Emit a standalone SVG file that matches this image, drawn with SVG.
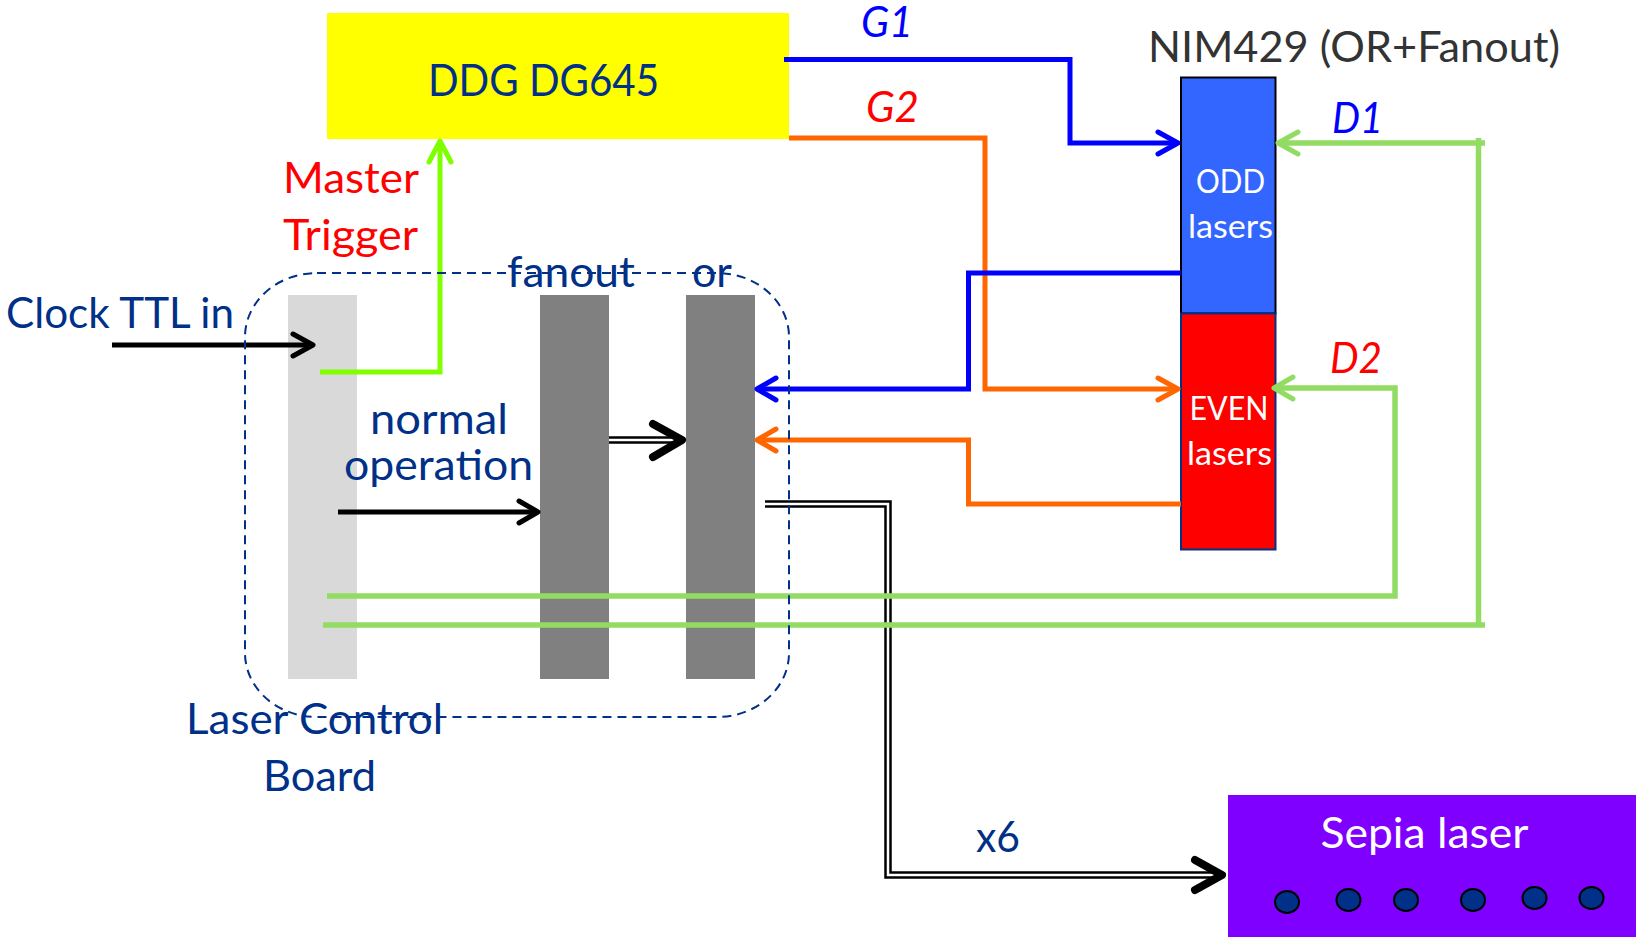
<svg xmlns="http://www.w3.org/2000/svg" width="1636" height="939" viewBox="0 0 1636 939">
<style>
text{font-family:"Lato","Open Sans","Noto Sans",sans-serif;font-size:42px;fill:#003087}
.r{fill:#f00}.b{fill:#00f}.w{fill:#fff}.i{font-style:italic;font-size:42px}.s{font-size:33px;fill:#fff}
.l{fill:none;stroke-linejoin:miter}
.blue{stroke:#00f;stroke-width:5}.or{stroke:#f60;stroke-width:5}.gr{stroke:#92dc64;stroke-width:5.5}.lime{stroke:#7fff00;stroke-width:5}.k{stroke:#000;stroke-width:5}
.h{fill:none;stroke-linecap:round;stroke-linejoin:round;stroke-width:5}
.dot{fill:#003087;stroke:#000;stroke-width:2}
</style>
<rect width="1636" height="939" fill="#fff"/>
<g id="board-inputs"><rect x="288" y="295" width="69" height="384" fill="#d9d9d9"/></g>
<g id="fanout-block"><rect x="540" y="295" width="69" height="384" fill="#808080"/></g>
<g id="or-block"><rect x="686" y="295" width="69" height="384" fill="#808080"/></g>
<g id="ddg"><rect x="327" y="13" width="462" height="126" fill="#ff0"/>
<text x="428" y="96" style="font-size:44px" textLength="231" lengthAdjust="spacingAndGlyphs">DDG DG645</text></g>
<g id="odd"><rect x="1181" y="77.500" width="94.500" height="236" fill="#36f" stroke="#000" stroke-width="2"/>
<text class="s" x="1196" y="193" textLength="69" lengthAdjust="spacingAndGlyphs">ODD</text>
<text class="s" x="1188" y="238" textLength="85" lengthAdjust="spacingAndGlyphs">lasers</text></g>
<g id="even"><rect x="1181" y="313.500" width="94.500" height="236" fill="#f00" stroke="#003087" stroke-width="2"/>
<text class="s" x="1189.500" y="420" textLength="79" lengthAdjust="spacingAndGlyphs">EVEN</text>
<text class="s" x="1187" y="465" textLength="85" lengthAdjust="spacingAndGlyphs">lasers</text></g>
<g id="sepia"><rect x="1228" y="795" width="408" height="142" fill="#8000ff"/>
<text class="w" x="1320.500" y="848" textLength="208" lengthAdjust="spacingAndGlyphs">Sepia laser</text>
<ellipse class="dot" cx="1287" cy="902" rx="12" ry="11"/><ellipse class="dot" cx="1348.500" cy="900" rx="12" ry="11"/><ellipse class="dot" cx="1406" cy="900" rx="12" ry="11"/><ellipse class="dot" cx="1473" cy="900" rx="12" ry="11"/><ellipse class="dot" cx="1534.500" cy="898" rx="12" ry="11"/><ellipse class="dot" cx="1591.500" cy="898" rx="12" ry="11"/></g>
<g id="connectors">
<path class="l k" d="M112 345H313"/><path class="h" stroke="#000" d="M293 334L313 345L293 356"/>
<path class="l k" d="M338 512H538"/><path class="h" stroke="#000" d="M519 501L538 512L519 523"/>
<path class="l lime" d="M320 372H440V142"/><path class="h" stroke="#7fff00" d="M429 162L440 141L451 162"/>
<path class="l" stroke="#000" stroke-width="7.500" d="M609 440H680"/><path class="l" stroke="#fff" stroke-width="2.500" d="M609 440H680"/><path class="h" stroke="#000" style="stroke-width:8" d="M653 424L682 440L653 457"/>
<path class="l" stroke="#000" stroke-width="7.500" d="M765 504H888V875H1220"/><path class="l" stroke="#fff" stroke-width="2.500" d="M765 504H888V875H1220"/><path class="h" stroke="#000" style="stroke-width:8" d="M1195 860L1222 875L1195 890"/>
<path class="l blue" d="M784 59.500H1070V143H1176"/><path class="h" stroke="#00f" d="M1158 132L1178 143L1158 154"/>
<path class="l or" d="M789 138H985V389H1176"/><path class="h" stroke="#f60" d="M1158 378L1178 389L1158 400"/>
<path class="l blue" d="M1181 273H968.500V389H760"/><path class="h" stroke="#00f" d="M776 378L757 389L776 400"/>
<path class="l or" d="M1181 504H968.500V440H760"/><path class="h" stroke="#f60" d="M776 429L757 440L776 451"/>
<path class="l gr" d="M323 625H1485M1478.500 625V138M1485 143H1282"/><path class="h" stroke="#92dc64" d="M1298 132L1278 143L1298 154"/>
<path class="l gr" d="M327 596H1395V388H1278"/><path class="h" stroke="#92dc64" d="M1293 377L1274 388L1293 399"/>
</g>
<g id="laser-control-board"><rect x="245" y="273" width="544" height="444" rx="72" ry="64" fill="none" stroke="#003087" stroke-width="2" stroke-dasharray="9 6"/></g>
<g id="labels">
<text class="r" x="283" y="193" textLength="136" lengthAdjust="spacingAndGlyphs">Master</text>
<text class="r" x="283" y="250" textLength="135" lengthAdjust="spacingAndGlyphs">Trigger</text>
<text x="507" y="287" textLength="128" lengthAdjust="spacingAndGlyphs">fanout</text>
<text x="692" y="287" textLength="40" lengthAdjust="spacingAndGlyphs">or</text>
<text x="6" y="328" textLength="228" lengthAdjust="spacingAndGlyphs">Clock TTL in</text>
<text x="370" y="434" textLength="138" lengthAdjust="spacingAndGlyphs">normal</text>
<text x="344" y="480" textLength="189" lengthAdjust="spacingAndGlyphs">operation</text>
<text x="186" y="734" textLength="257" lengthAdjust="spacingAndGlyphs">Laser Control</text>
<text x="263" y="791" textLength="113" lengthAdjust="spacingAndGlyphs">Board</text>
<text x="976" y="852" textLength="44" lengthAdjust="spacingAndGlyphs">x6</text>
<text class="b i" x="861" y="37" textLength="52" lengthAdjust="spacingAndGlyphs">G1</text>
<text class="r i" x="866" y="122" textLength="53" lengthAdjust="spacingAndGlyphs">G2</text>
<text class="b i" x="1332" y="133" textLength="51" lengthAdjust="spacingAndGlyphs">D1</text>
<text class="r i" x="1330" y="373" textLength="52" lengthAdjust="spacingAndGlyphs">D2</text>
<text x="1148" y="62" style="fill:#333" textLength="412" lengthAdjust="spacingAndGlyphs">NIM429 (OR+Fanout)</text>
</g>
</svg>
